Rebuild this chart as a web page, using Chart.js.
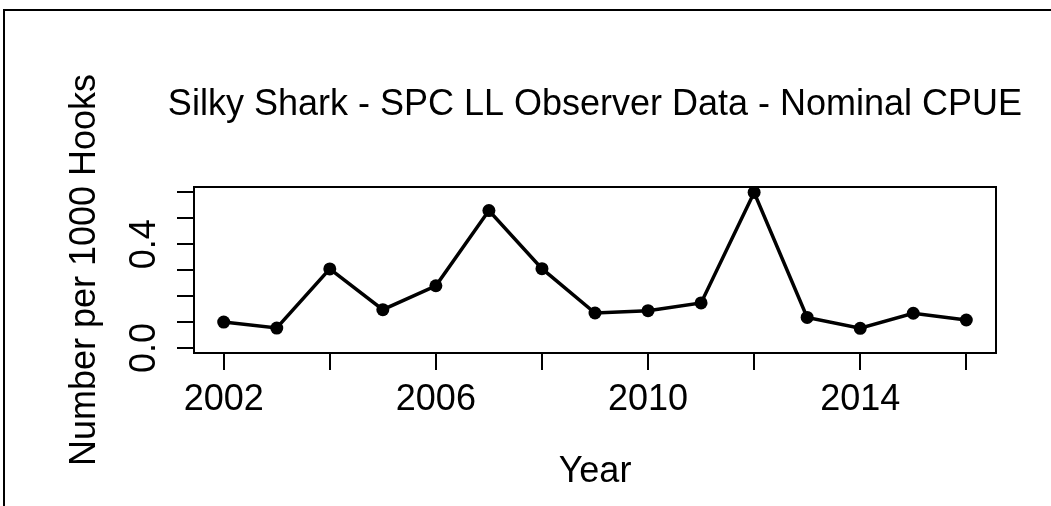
<!DOCTYPE html>
<html>
<head>
<meta charset="utf-8">
<script src="https://cdn.jsdelivr.net/npm/chart.js@4/dist/chart.umd.min.js"></script>
<style>
  html, body { margin: 0; padding: 0; background: #fff; overflow: hidden; }
  canvas { display: block; }
</style>
</head>
<body>
<canvas id="myChart" width="1051" height="506"></canvas>
<script>

// nominal CPUE per year
var years = [2002, 2003, 2004, 2005, 2006, 2007, 2008, 2009, 2010, 2011, 2012, 2013, 2014, 2015, 2016];
var cpue  = [0.100, 0.077, 0.305, 0.148, 0.240, 0.530, 0.306, 0.135, 0.144, 0.174, 0.600, 0.118, 0.076, 0.134, 0.108];

// axis ticks (R style: not every tick gets a label)
var xTickValues = [2002, 2004, 2006, 2008, 2010, 2012, 2014, 2016];
var xTickLabels = [2002, 2006, 2010, 2014];
var yTickValues = [0, 0.1, 0.2, 0.3, 0.4, 0.5, 0.6];
var yTickLabels = [0.0, 0.4];

var mainTitle = 'Silky Shark - SPC LL Observer Data - Nominal CPUE';
var xTitle = 'Year';
var yTitle = 'Number per 1000 Hooks';

var FONT = '"Liberation Sans", Arial, sans-serif';

// box, frame, titles and the rotated y labels
var rPlot = {
    id: 'rPlot',
    beforeDraw: function(chart){
        var ctx = chart.ctx;
        ctx.save();
        ctx.fillStyle = '#fff';
        ctx.fillRect(0, 0, chart.width, chart.height);
        ctx.restore();
    },
    afterDraw: function(chart){
        var ctx = chart.ctx;
        var a = chart.chartArea;
        ctx.save();
        ctx.fillStyle = '#000';
        ctx.strokeStyle = '#000';

        // outer frame
        ctx.fillRect(3, 9, chart.width, 2);
        ctx.fillRect(3, 9, 2, chart.height);

        // plot box
        ctx.lineWidth = 2;
        ctx.strokeRect(a.left, a.top, a.right - a.left, a.bottom - a.top);

        var mid = (a.left + a.right) / 2;
        ctx.font = '36px ' + FONT;
        ctx.textAlign = 'center';
        ctx.textBaseline = 'alphabetic';
        ctx.fillText(mainTitle, mid, 115);
        ctx.fillText(xTitle, mid, 482);

        ctx.save();
        ctx.translate(95, (a.top + a.bottom) / 2);
        ctx.rotate(-Math.PI / 2);
        ctx.fillText(yTitle, 0, 0);
        ctx.restore();

        var ys = chart.scales.y;
        yTickLabels.forEach(function(v){
            ctx.save();
            ctx.translate(155, ys.getPixelForValue(v));
            ctx.rotate(-Math.PI / 2);
            ctx.fillText(v.toFixed(1), 0, 0);
            ctx.restore();
        });
        ctx.restore();
    }
};

document.addEventListener('DOMContentLoaded', drawChart);

function drawChart(){
    var points = [];
    for (var i = 0; i < years.length; i++) {
        points.push({x: years[i], y: cpue[i]});
    }

    var ctx = document.getElementById('myChart').getContext('2d');
    new Chart(ctx, {
        type: 'line',
        data: {
            datasets: [{
                data: points,
                borderColor: '#000',
                borderWidth: 3.5,
                backgroundColor: '#000',
                pointRadius: 6.5,
                pointBackgroundColor: '#000',
                pointBorderWidth: 0,
                fill: false,
                lineTension: 0
            }]
        },
        options: {
            responsive: false,
            animation: false,
            devicePixelRatio: 1,
            layout: {padding: {left: 0, top: 187, right: 55, bottom: 0}},
            plugins: {
                legend: {display: false},
                title: {display: false},
                tooltip: {enabled: false}
            },
            scales: {
                x: {
                    type: 'linear',
                    min: 2001.44,
                    max: 2016.56,
                    afterBuildTicks: function(s){
                        s.ticks = xTickValues.map(function(v){ return {value: v}; });
                    },
                    afterFit: function(s){ s.height = 153; },
                    grid: {drawOnChartArea: false, drawTicks: true, tickLength: 17, color: '#000', lineWidth: 2},
                    border: {display: false},
                    ticks: {
                        color: '#000',
                        font: {family: FONT, size: 36},
                        padding: 8,
                        maxRotation: 0,
                        autoSkip: false,
                        callback: function(v){ return xTickLabels.indexOf(v) >= 0 ? String(v) : ''; }
                    }
                },
                y: {
                    type: 'linear',
                    min: -0.0193,
                    max: 0.621,
                    afterBuildTicks: function(s){
                        s.ticks = yTickValues.map(function(v){ return {value: v}; });
                    },
                    afterFit: function(s){ s.width = 194; },
                    grid: {drawOnChartArea: false, drawTicks: true, tickLength: 17, color: '#000', lineWidth: 2},
                    border: {display: false},
                    ticks: {display: false}
                }
            }
        },
        plugins: [rPlot]
    });
}
</script>
</body>
</html>
